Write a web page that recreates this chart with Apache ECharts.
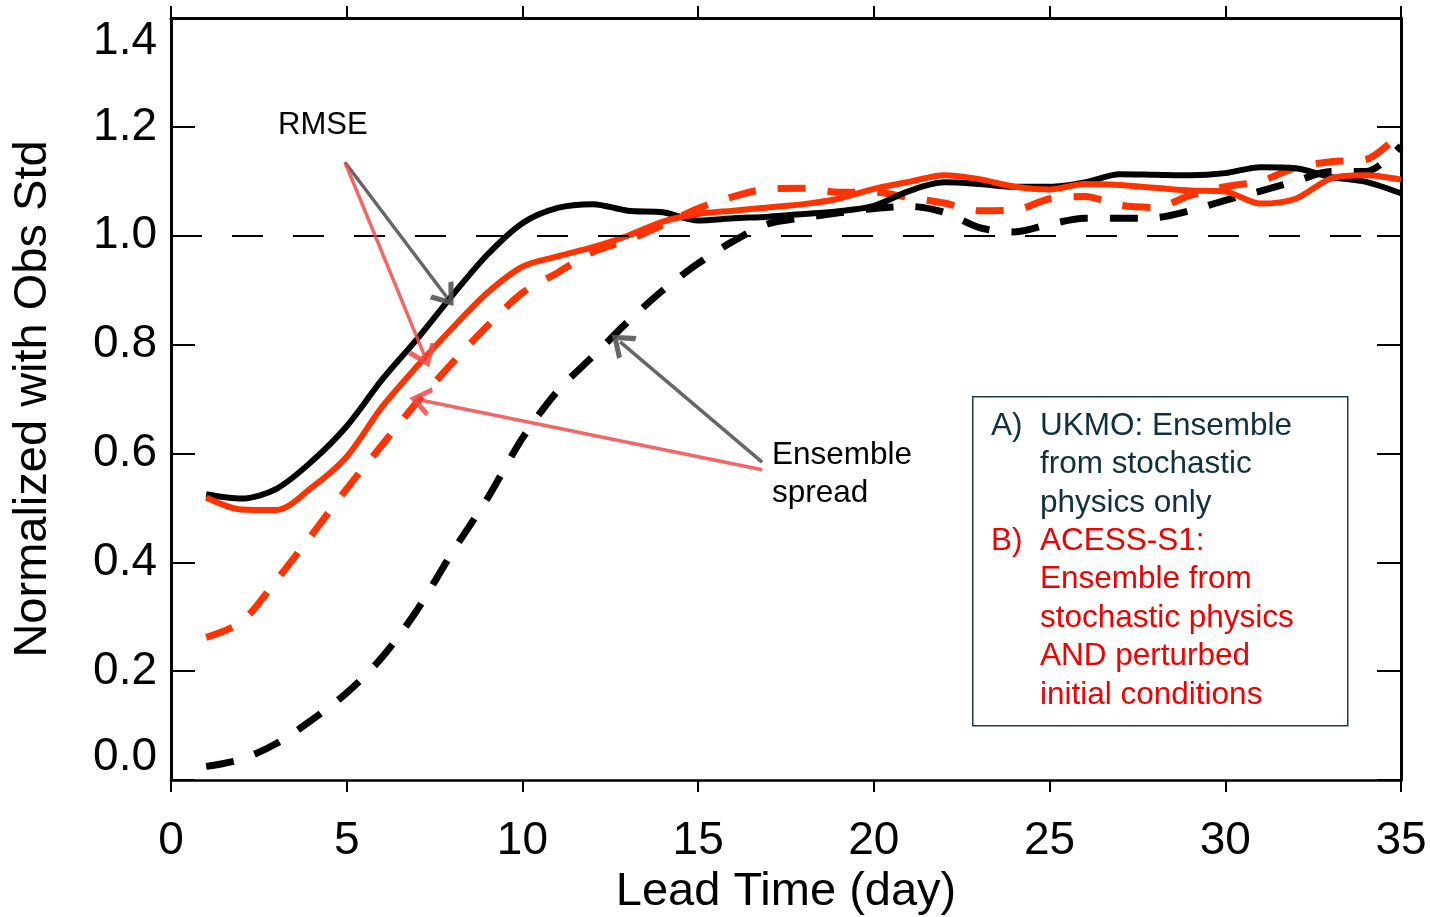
<!DOCTYPE html>
<html lang="en">
<head>
  <meta charset="UTF-8">
  <title>Normalized RMSE and ensemble spread</title>
  <script src="https://cdn.jsdelivr.net/npm/echarts@6/dist/echarts.min.js"></script>
  <style>
    body { margin: 0; background: #fff; }
  </style>
</head>
<body>
  <div id="app" style="width: 1430px; height: 917px;"></div>
  <script>
    var days = []
    for (var d = 1; d <= 35; d++) days.push(d)

    // UKMO (black) and ACCESS-S1 (red)
    var ukmoRmse = [0.525, 0.517, 0.535, 0.585, 0.65, 0.735, 0.81, 0.89, 0.965, 1.023,
      1.051, 1.058, 1.046, 1.043, 1.028, 1.032, 1.035, 1.04, 1.045, 1.055,
      1.082, 1.098, 1.095, 1.09, 1.09, 1.098, 1.113, 1.112, 1.111, 1.115,
      1.126, 1.124, 1.108, 1.099, 1.078]
    var accessRmse = [0.519, 0.497, 0.496, 0.537, 0.594, 0.685, 0.76, 0.83, 0.895, 0.943,
      0.962, 0.979, 1.0, 1.026, 1.04, 1.046, 1.052, 1.058, 1.068, 1.086,
      1.099, 1.111, 1.104, 1.09, 1.085, 1.095, 1.093, 1.088, 1.083, 1.081,
      1.059, 1.068, 1.105, 1.111, 1.103]
    var ukmoSpread = [0.025, 0.038, 0.067, 0.11, 0.16, 0.225, 0.312, 0.418, 0.517, 0.628,
      0.715, 0.778, 0.842, 0.9, 0.949, 0.99, 1.022, 1.033, 1.042, 1.05,
      1.054, 1.043, 1.015, 1.007, 1.021, 1.032, 1.032, 1.033, 1.046, 1.065,
      1.082, 1.1, 1.118, 1.118, 1.165]
    var accessSpread = [0.262, 0.29, 0.367, 0.45, 0.535, 0.615, 0.694, 0.766, 0.834, 0.895,
      0.932, 0.97, 0.992, 1.02, 1.05, 1.072, 1.086, 1.087, 1.08, 1.08,
      1.07, 1.06, 1.046, 1.047, 1.068, 1.072, 1.056, 1.052, 1.074, 1.09,
      1.1, 1.125, 1.136, 1.14, 1.19]

    var xTicks = [0, 5, 10, 15, 20, 25, 30, 35]
    var yTicks = [0.0, 0.2, 0.4, 0.6, 0.8, 1.0, 1.2, 1.4]

    // annotation arrows in data coords: [start, end]
    var rmseArrowGray = [[4.95, 1.135], [7.85, 0.887]]
    var rmseArrowRed = [[4.95, 1.135], [7.23, 0.777]]
    var spreadArrowGray = [[16.82, 0.584], [12.78, 0.805]]
    var spreadArrowRed = [[16.82, 0.57], [7.09, 0.698]]

    function pairs(ys) {
      return days.map(function (d, i) { return [d, ys[i]] })
    }

    var axisFont = 'Liberation Sans, Arial, sans-serif'
    var black = '#000'
    var red = '#ff3300'
    var gray = 'rgba(85,85,85,0.9)'
    var salmon = 'rgba(240,75,75,0.85)'
    // open arrow head, tip at the top
    var chevron = 'path://M0,9 L5,0 L10,9 L8.4,10 L5,3.8 L1.6,10 Z'

    function arrow(pts) {
      return [{ coord: pts[0] }, { coord: pts[1] }]
    }

    function arrowSeries(name, color, list) {
      return {
        name: name, type: 'line', data: [], silent: true,
        markLine: {
          silent: true, label: { show: false }, animation: false,
          symbol: ['none', chevron], symbolSize: [30, 22],
          itemStyle: { color: color },
          lineStyle: { color: color, width: 3.5, type: 'solid' },
          emphasis: { disabled: true },
          data: list.map(arrow)
        }
      }
    }

    function legendText(left, top, text, color) {
      return { type: 'text', left: left, top: top, z: 11,
        style: { text: text, fontFamily: 'Liberation Sans, Arial, sans-serif', fontSize: 31.5,
          fill: color, lineHeight: 38.5 } }
    }

    var mCharts = echarts.init(document.getElementById('app'))

    var option = {
      animation: false,
      backgroundColor: '#fff',
      grid: { left: 171, right: 29, top: 18, bottom: 137, containLabel: false, outerBoundsMode: 'none' },
      xAxis: [
        {
          type: 'value', min: 0, max: 35, interval: 5,
          name: 'Lead Time (day)', nameLocation: 'middle', nameGap: 86,
          nameTextStyle: { fontFamily: axisFont, fontSize: 47, color: black },
          axisLine: { show: true, onZero: false, lineStyle: { color: black, width: 2.5 } },
          axisTick: { show: true, inside: false, length: 12, lineStyle: { color: black, width: 2 } },
          axisLabel: { fontFamily: axisFont, fontSize: 46, color: black, margin: 38,
            formatter: function (v) { return xTicks.indexOf(v) >= 0 ? String(v) : '' } },
          splitLine: { show: false }
        },
        {
          type: 'value', min: 0, max: 35, interval: 5, position: 'top',
          axisLine: { show: true, onZero: false, lineStyle: { color: black, width: 3 } },
          axisTick: { show: true, inside: false, length: 12, lineStyle: { color: black, width: 2 } },
          axisLabel: { show: false },
          splitLine: { show: false }
        }
      ],
      yAxis: [
        {
          type: 'value', min: 0, max: 1.4, interval: 0.2,
          name: 'Normalized with Obs Std', nameLocation: 'middle', nameGap: 114,
          nameTextStyle: { fontFamily: axisFont, fontSize: 47, color: black },
          axisLine: { show: true, onZero: false, lineStyle: { color: black, width: 3 } },
          axisTick: { show: true, inside: true, length: 24, lineStyle: { color: black, width: 2 } },
          axisLabel: { fontFamily: axisFont, fontSize: 46, color: black, margin: 14,
            verticalAlignMaxLabel: 'top', verticalAlignMinLabel: 'bottom',
            formatter: function (v) { return v.toFixed(1) } },
          splitLine: { show: false }
        },
        {
          type: 'value', min: 0, max: 1.4, interval: 0.2, position: 'right',
          axisLine: { show: true, onZero: false, lineStyle: { color: black, width: 3 } },
          axisTick: { show: true, inside: true, length: 24, lineStyle: { color: black, width: 2 } },
          axisLabel: { show: false },
          splitLine: { show: false }
        }
      ],
      series: [
        {
          name: 'UKMO spread', type: 'line', data: pairs(ukmoSpread), showSymbol: false, smooth: 0.3,
          lineStyle: { color: black, width: 7, type: [28, 22] }
        },
        {
          name: 'ACCESS spread', type: 'line', data: pairs(accessSpread), showSymbol: false, smooth: 0.3,
          lineStyle: { color: red, width: 7, type: [28, 22] }
        },
        {
          name: 'UKMO RMSE', type: 'line', data: pairs(ukmoRmse), showSymbol: false, smooth: 0.3,
          lineStyle: { color: black, width: 6 }
        },
        {
          name: 'ACCESS RMSE', type: 'line', data: pairs(accessRmse), showSymbol: false, smooth: 0.3,
          lineStyle: { color: red, width: 6 },
          markLine: {
            silent: true, symbol: 'none', label: { show: false },
            lineStyle: { color: black, width: 2, type: [31, 30] },
            data: [{ yAxis: 1.0 }]
          }
        },
        arrowSeries('gray arrows', gray, [rmseArrowGray, spreadArrowGray]),
        arrowSeries('red arrows', salmon, [rmseArrowRed, spreadArrowRed])
      ],
      graphic: [
        { type: 'text', left: 278, top: 110,
          style: { text: 'RMSE', fontFamily: 'Liberation Sans, Arial, sans-serif', fontSize: 31, fill: black } },
        { type: 'text', left: 772, top: 436,
          style: { text: 'Ensemble\nspread', fontFamily: 'Liberation Sans, Arial, sans-serif', fontSize: 31.5,
            fill: black, lineHeight: 38 } },
        { type: 'rect', left: 972, top: 396, z: 10,
          shape: { width: 375, height: 329 },
          style: { fill: '#fff', stroke: '#1c3a4a', lineWidth: 1.5 } },
        legendText(991, 407, 'A)', '#10303f'),
        legendText(1040, 407, 'UKMO: Ensemble\nfrom stochastic\nphysics only', '#10303f'),
        legendText(991, 522, 'B)', '#f00000'),
        legendText(1040, 522, 'ACESS-S1:\nEnsemble from\nstochastic physics\nAND perturbed\ninitial conditions', '#f00000')
      ]
    }
    mCharts.setOption(option)
  </script>
</body>
</html>
